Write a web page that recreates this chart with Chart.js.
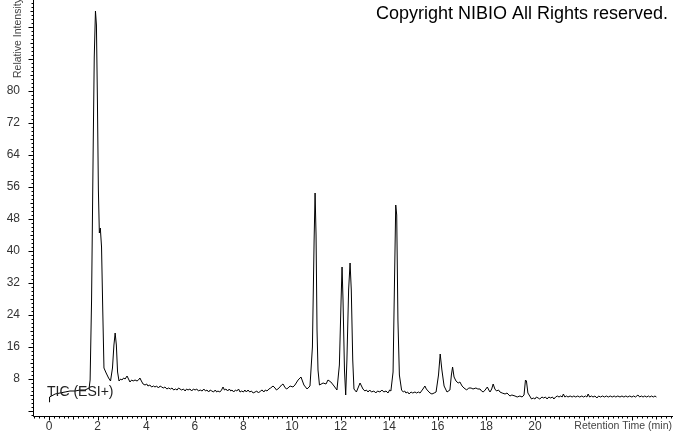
<!DOCTYPE html>
<html>
<head>
<meta charset="utf-8">
<script src="https://cdn.jsdelivr.net/npm/chart.js@4.4.1/dist/chart.umd.min.js"></script>
<style>
  html, body { margin: 0; padding: 0; background: #fff; }
  #tic { display: block; }
</style>
</head>
<body>
<canvas id="tic" width="673" height="433"></canvas>
<script>
// retention time (min) and relative intensity (one row each)
const retentionTimes = [
  0.00, 0.02, 0.10, 0.25, 0.45, 0.66, 0.86, 1.07, 1.28, 1.48, 1.65, 1.69, 1.75, 1.82, 1.86, 1.91, 1.95, 1.99,
  2.03, 2.07, 2.11, 2.16, 2.21, 2.26, 2.35, 2.45, 2.53, 2.61, 2.67, 2.72, 2.77, 2.82, 2.88,
  2.95, 3.00, 3.07, 3.13, 3.21, 3.27, 3.33, 3.40, 3.46, 3.54, 3.62, 3.68, 3.74, 3.80, 3.87,
  3.95, 4.02, 4.07, 4.15, 4.22, 4.30, 4.36, 4.43, 4.50, 4.57, 4.64, 4.70, 4.77, 4.85, 4.92, 5.00,
  5.06, 5.13, 5.20, 5.27, 5.33, 5.39, 5.46, 5.53, 5.60, 5.66, 5.72, 5.80, 5.87, 5.94, 6.01, 6.08,
  6.15, 6.22, 6.30, 6.37, 6.44, 6.50, 6.57, 6.63, 6.70, 6.77, 6.84, 6.90, 6.95, 7.03, 7.10,
  7.16, 7.22, 7.28, 7.35, 7.42, 7.48, 7.53, 7.60, 7.67, 7.73, 7.80, 7.86, 7.93, 8.00, 8.06, 8.12,
  8.19, 8.26, 8.33, 8.40, 8.48, 8.55, 8.62, 8.70, 8.77, 8.84, 8.90, 8.97, 9.05, 9.12,
  9.22, 9.30, 9.36, 9.42, 9.50, 9.57, 9.63, 9.70, 9.77, 9.84, 9.92, 10.04, 10.12,
  10.25, 10.37, 10.49, 10.62, 10.74, 10.84, 10.91, 10.95, 10.99, 11.03, 11.07, 11.13,
  11.28, 11.40, 11.48, 11.60, 11.73, 11.85, 11.95, 12.02, 12.06, 12.10,
  12.16, 12.21, 12.26, 12.33, 12.39, 12.44, 12.50, 12.55, 12.65, 12.80, 12.92,
  13.00, 13.06, 13.13, 13.20, 13.27, 13.37, 13.45, 13.52, 13.62, 13.70, 13.78, 13.87, 13.95, 14.02, 14.07,
  14.16, 14.22, 14.27, 14.31, 14.36, 14.42, 14.51,
  14.58, 14.64, 14.69, 14.76, 14.82, 14.90, 14.97, 15.06, 15.13, 15.20, 15.27, 15.33, 15.39, 15.47, 15.53, 15.60, 15.68, 15.76, 15.85, 15.93,
  16.03, 16.10, 16.17, 16.26, 16.38, 16.50, 16.56, 16.61, 16.67, 16.75, 16.84, 16.91,
  17.00, 17.08, 17.19, 17.27, 17.37, 17.45, 17.57, 17.65, 17.74, 17.80, 17.87, 17.95, 18.04,
  18.10, 18.15, 18.22, 18.28, 18.35, 18.42, 18.50, 18.56, 18.65, 18.77, 18.85, 18.97, 19.05, 19.18, 19.27, 19.38, 19.47, 19.55,
  19.61, 19.65, 19.71, 19.86, 19.93, 20.00, 20.06, 20.13, 20.20, 20.29, 20.36, 20.43,
  20.50, 20.57, 20.65, 20.72, 20.78, 20.85, 20.92, 20.99, 21.06, 21.12, 21.17, 21.23, 21.30, 21.36, 21.45,
  21.53, 21.60, 21.68, 21.76, 21.84, 21.93, 22.00, 22.08, 22.14, 22.19, 22.25, 22.33, 22.39, 22.47, 22.55, 22.62,
  22.70, 22.78, 22.86, 22.94, 23.02, 23.10, 23.18, 23.26, 23.33, 23.41, 23.50, 23.58, 23.66, 23.74, 23.82,
  23.90, 23.99, 24.06, 24.14, 24.24, 24.31, 24.38, 24.45, 24.52, 24.60, 24.67, 24.73, 24.80, 24.87, 24.94, 25.00
];
const intensities = [
  2.25, 3.5, 3.75, 4.25, 4.5, 4.75, 5, 5, 5.25, 5.25, 5.75, 7.75, 27.75, 67.75, 88.5, 100, 96.5, 77.75,
  55.25, 44.5, 45.75, 41, 25.25, 10.75, 9.5, 8.25, 7.5, 10.75, 16.5, 19.5, 16.5, 9.75, 7.5,
  8, 7.75, 8.25, 8, 8.75, 8, 7.25, 7.75, 7.5, 7.75, 7.5, 7.75, 8.25, 7.5, 6.75,
  6.5, 6.75, 6.25, 6.5, 6, 6.25, 6, 6.25, 5.75, 6.25, 6, 5.75, 6, 5.5, 5.75, 5.5,
  5.75, 5.25, 5.5, 5.25, 5.75, 5.5, 5.25, 5.5, 5, 5.5, 5.25, 5.5, 5, 5.5, 5.25, 5.5,
  5, 5.25, 5, 5.5, 5, 5.25, 4.75, 5.25, 5, 4.75, 5.25, 4.75, 5, 4.75, 5.25,
  6, 5.25, 5.5, 5, 5.5, 5, 5.25, 4.75, 5.25, 5, 5.5, 4.75, 5, 4.75, 5.25, 4.75,
  5.25, 4.75, 5, 4.5, 4.75, 5, 4.5, 5, 5.25, 4.75, 5.25, 5, 5.5, 5.75,
  6.25, 5.75, 5.25, 5.5, 6, 6.5, 6.75, 6, 5.5, 5.75, 6.25, 6, 6.5,
  7.75, 8.5, 6.5, 5.5, 6.25, 16, 42.75, 54.5, 44, 20.25, 10.25, 6.5,
  7, 6.75, 7.75, 7.25, 6.25, 5.25, 11.5, 27.75, 36, 27.75,
  10.25, 4, 12.75, 30.25, 37, 30.25, 12.75, 5.5, 4.75, 7, 5.5,
  5, 5.25, 4.75, 5.25, 4.75, 5, 4.5, 5, 4.75, 5.25, 4.75, 5, 4.5, 5.25, 5,
  9.75, 32.75, 51.5, 49, 22.75, 9, 5.25,
  4.75, 5, 4.5, 4.75, 4.25, 4.75, 4.5, 4.75, 4.5, 4.75, 4.5, 5, 5.5, 6.25, 5.5, 5, 4.5, 4.25, 4.5, 4.75,
  9, 14.25, 10.25, 6.25, 4.75, 5.25, 9, 11, 8.5, 7.5, 7, 7.25,
  6.25, 5.75, 5.25, 5.75, 5.75, 5.5, 5.75, 5.5, 5.5, 5, 4.75, 5.25, 6,
  5.25, 4.75, 5.5, 6.75, 5.5, 5, 5.25, 4.75, 4.5, 4.25, 4.5, 3.75, 4, 3.75, 3.5, 3.75, 3.5, 4,
  7.75, 7.5, 4.5, 3, 3.25, 3, 3.5, 3.25, 3, 3.5, 3.25, 3.5,
  3, 3.5, 3.25, 3.5, 3, 3.5, 3.75, 3.5, 3.75, 3.5, 4.25, 3.5, 3.75, 3.5, 3.75,
  3.5, 3.75, 3.5, 3.75, 3.5, 3.75, 3.5, 3.75, 3.5, 4.25, 3.5, 3.75, 3.5, 3.75, 3.25, 3.75,
  3.5, 3.75, 3.5, 3.75, 3.5, 3.75, 3.5, 3.75, 3.5, 3.75, 3.5, 3.75, 3.5, 3.75, 3.5,
  3.75, 3.5, 3.75, 3.5, 4, 3.5, 3.75, 3.5, 3.75, 3.5, 3.75, 3.5, 3.75, 3.5, 3.75, 3.5
];
const xTickLabels = [0, 2, 4, 6, 8, 10, 12, 14, 16, 18, 20];
const yTickLabels = [8, 16, 24, 32, 40, 48, 56, 64, 72, 80];

const FONT = "'Liberation Sans', Arial, sans-serif";

// fixed axis boxes, no automatic label padding
function fixBox(s, w, h) {
  if (w) s.width = w;
  if (h) s.height = h;
  s.paddingTop = 0;
  s.paddingBottom = 0;
  s.paddingLeft = 0;
  s.paddingRight = 0;
}

// axis lines, minor ticks and the free text labels
const chromLayout = {
  id: 'chromLayout',
  afterDraw(chart) {
    const ctx = chart.ctx;
    const a = chart.chartArea;
    const xs = chart.scales.x;
    const ys = chart.scales.y;
    ctx.save();
    ctx.strokeStyle = '#000';
    ctx.lineWidth = 1;
    ctx.beginPath();
    const ax = Math.round(a.left) - 0.5;
    const ay = Math.round(a.bottom) + 0.5;
    ctx.moveTo(ax, 0);
    ctx.lineTo(ax, ay);
    ctx.lineTo(chart.width, ay);
    for (let v = -1; v <= 102; v++) {
      const py = Math.round(ys.getPixelForValue(v)) + 0.5;
      const len = v % 8 === 0 ? 5 : (v % 4 === 0 ? 3 : 2);
      ctx.moveTo(ax - len, py);
      ctx.lineTo(ax, py);
    }
    for (let i = -3; i <= 128; i++) {
      const px = Math.round(xs.getPixelForValue(i * 0.2)) + 0.5;
      const len = i % 10 === 0 ? 4 : (i % 5 === 0 ? 3 : 2);
      ctx.moveTo(px, ay);
      ctx.lineTo(px, ay + len);
    }
    ctx.stroke();

    ctx.fillStyle = '#000';
    ctx.textBaseline = 'middle';
    ctx.font = '18px ' + FONT;
    ctx.textAlign = 'left';
    ctx.fillText('Copyright NIBIO All Rights reserved.', 376, 14);

    ctx.fillStyle = '#222';
    ctx.font = '14px ' + FONT;
    ctx.fillText('TIC (ESI+)', 47, 392);

    ctx.fillStyle = '#444';
    ctx.font = '10.5px ' + FONT;
    ctx.textAlign = 'right';
    ctx.fillText('Retention Time (min)', 672, 426);

    ctx.translate(18, 78);
    ctx.rotate(-Math.PI / 2);
    ctx.textAlign = 'left';
    ctx.fillText('Relative Intensity', 0, 0);
    ctx.restore();
  }
};

new Chart('tic', {
  type: 'line',
  data: {
    datasets: [{
      label: 'TIC (ESI+)',
      data: retentionTimes.map((t, i) => ({ x: t, y: intensities[i] })),
      borderColor: '#000',
      borderWidth: 1,
      pointRadius: 0,
      tension: 0,
      fill: false,
    }]
  },
  options: {
    responsive: false,
    animation: false,
    devicePixelRatio: 1,
    layout: { padding: { right: 2, top: 0, left: 0, bottom: 0 } },
    plugins: {
      legend: { display: false },
      tooltip: { enabled: false },
    },
    scales: {
      x: {
        type: 'linear',
        min: -0.62,
        max: 25.6,
        grid: { display: false, drawTicks: false },
        border: { display: false },
        ticks: { color: '#333', font: { size: 12, family: FONT }, padding: 3, maxRotation: 0, autoSkip: false },
        afterBuildTicks: (s) => { s.ticks = xTickLabels.map(v => ({ value: v })); },
        afterFit: (s) => fixBox(s, 0, 17),
      },
      y: {
        min: -1.25,
        max: 102.75,
        grid: { display: false, drawTicks: false },
        border: { display: false },
        ticks: { color: '#333', font: { size: 12, family: FONT }, padding: 14 },
        afterBuildTicks: (s) => { s.ticks = yTickLabels.map(v => ({ value: v })); },
        afterFit: (s) => fixBox(s, 34, 0),
      }
    }
  },
  plugins: [chromLayout]
});
</script>
</body>
</html>
